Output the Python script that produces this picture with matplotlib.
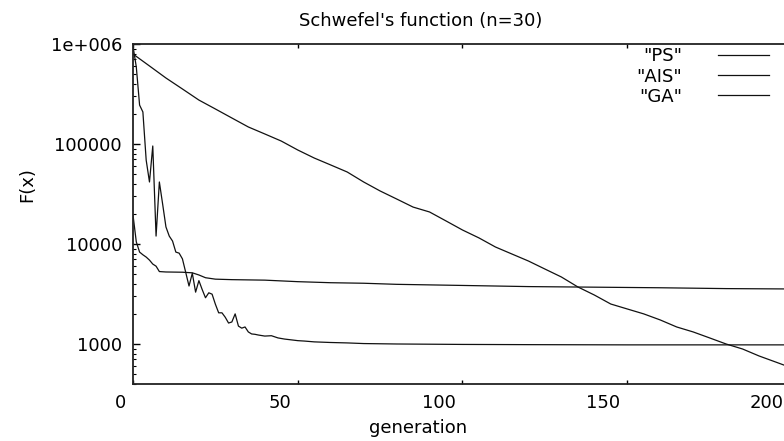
import matplotlib
matplotlib.use('Agg')
import matplotlib.pyplot as plt
from matplotlib.ticker import LogLocator, NullFormatter, FixedLocator
from matplotlib.transforms import ScaledTranslation

# "PS" - fast, noisy drop then plateau near 1000
ps_gen = [0, 1, 2, 3, 4, 5, 6, 7, 8, 9, 10, 11, 12, 13, 14, 15, 16, 17, 18, 19,
          20, 21, 22, 23, 24, 25, 26, 27, 28, 29, 30, 31, 32, 33, 34, 35, 36, 37,
          38, 40, 42, 44, 46, 48, 50, 52, 55, 60, 65, 70, 80, 100, 120, 150, 200]
ps_val = [950000, 590000, 245000, 209000, 69000, 41700, 95500, 12000, 41700,
          25000, 14800, 12000, 10700, 8300, 8100, 7100, 5200, 3800, 5100, 3300,
          4300, 3500, 2900, 3250, 3150, 2500, 2050, 2050, 1850, 1620, 1660, 2000,
          1510, 1440, 1480, 1320, 1260, 1250, 1230, 1200, 1210, 1150, 1120, 1100,
          1080, 1070, 1050, 1035, 1025, 1010, 1000, 990, 985, 980, 980]

# "AIS" - steady log-linear decrease
ais_gen = list(range(0, 201, 5))
ais_val = [794000, 603000, 457000, 355000, 275000, 224000, 182000, 148000,
           126000, 107000, 87100, 72400, 61700, 52500, 41700, 33900, 28200,
           23400, 20900, 17000, 13800, 11500, 9330, 7940, 6760, 5620, 4680,
           3720, 3090, 2510, 2240, 2000, 1740, 1480, 1320, 1150, 1000, 891,
           759, 661, 575]

# "GA" - quick drop then slow plateau
ga_gen = [0, 1, 2, 3, 4, 5, 6, 7, 8, 10, 15, 18, 20, 22, 25, 30, 40, 50, 60,
          70, 80, 100, 120, 140, 160, 180, 200]
ga_val = [19500, 10500, 8300, 7800, 7400, 6900, 6300, 6000, 5300, 5250, 5220,
          5150, 4900, 4600, 4450, 4400, 4350, 4200, 4100, 4050, 3950, 3850,
          3750, 3700, 3650, 3580, 3550]

ytick_vals = [1000, 10000, 100000, 1000000]
ytick_labels = ['1000', '10000', '100000', '1e+006']
xtick_vals = [0, 50, 100, 150, 200]

def main():
    plt.rcParams['font.family'] = ['DejaVu Sans']
    plt.rcParams['font.size'] = 13

    fig = plt.figure(figsize=(7.84, 4.41), dpi=100)
    # axes runs past the right edge, like the cropped original
    ax = fig.add_axes([133/784, 57/441, 659/784, 340/441])

    lc = '#111111'
    ax.plot(ps_gen, ps_val, color=lc, lw=0.9, label='"PS"')
    ax.plot(ais_gen, ais_val, color=lc, lw=0.9, label='"AIS"')
    ax.plot(ga_gen, ga_val, color=lc, lw=0.9, label='"GA"')

    ax.set_yscale('log')
    ax.set_xlim(0, 200)
    ax.set_ylim(398, 1e6)

    ax.yaxis.set_major_locator(FixedLocator(ytick_vals))
    ax.set_yticklabels(ytick_labels)
    ax.yaxis.set_minor_locator(LogLocator(base=10, subs=range(2, 10)))
    ax.yaxis.set_minor_formatter(NullFormatter())
    ax.set_xticks(xtick_vals)
    ax.set_xticklabels([str(v) for v in xtick_vals])

    ax.tick_params(axis='both', which='both', direction='in', top=True,
                   right=True, colors='black', labelsize=13)
    ax.tick_params(axis='y', which='major', length=5, width=1, pad=8)
    ax.tick_params(axis='y', which='minor', length=2.5, width=0.8)
    ax.tick_params(axis='x', which='major', length=3, width=1, pad=7)
    for s in ax.spines.values():
        s.set_linewidth(1.3)
        s.set_color('#222222')

    # the original's tick labels sit a little left of their ticks
    offsets = [-12, -18, -24, -24, -25]
    for lab, dx in zip(ax.get_xticklabels(), offsets):
        lab.set_transform(lab.get_transform() +
                          ScaledTranslation(dx/100, 0, fig.dpi_scale_trans))

    ax.legend(loc='upper right', bbox_to_anchor=(0.976, 1.011),
              frameon=False, markerfirst=False, handlelength=2.8,
              handletextpad=2.0, labelspacing=0.12, fontsize=13,
              borderaxespad=0)

    fig.text(421/784, 1 - 21/441, "Schwefel's function (n=30)", ha='center',
             va='center', fontsize=13)
    fig.text(418/784, 1 - 428/441, 'generation', ha='center', va='center',
             fontsize=13)
    fig.text(27/784, 1 - 185/441, 'F(x)', ha='center', va='center',
             rotation=90, fontsize=13)

    fig.savefig('out.png', dpi=100)

if __name__ == "__main__":
    main()
